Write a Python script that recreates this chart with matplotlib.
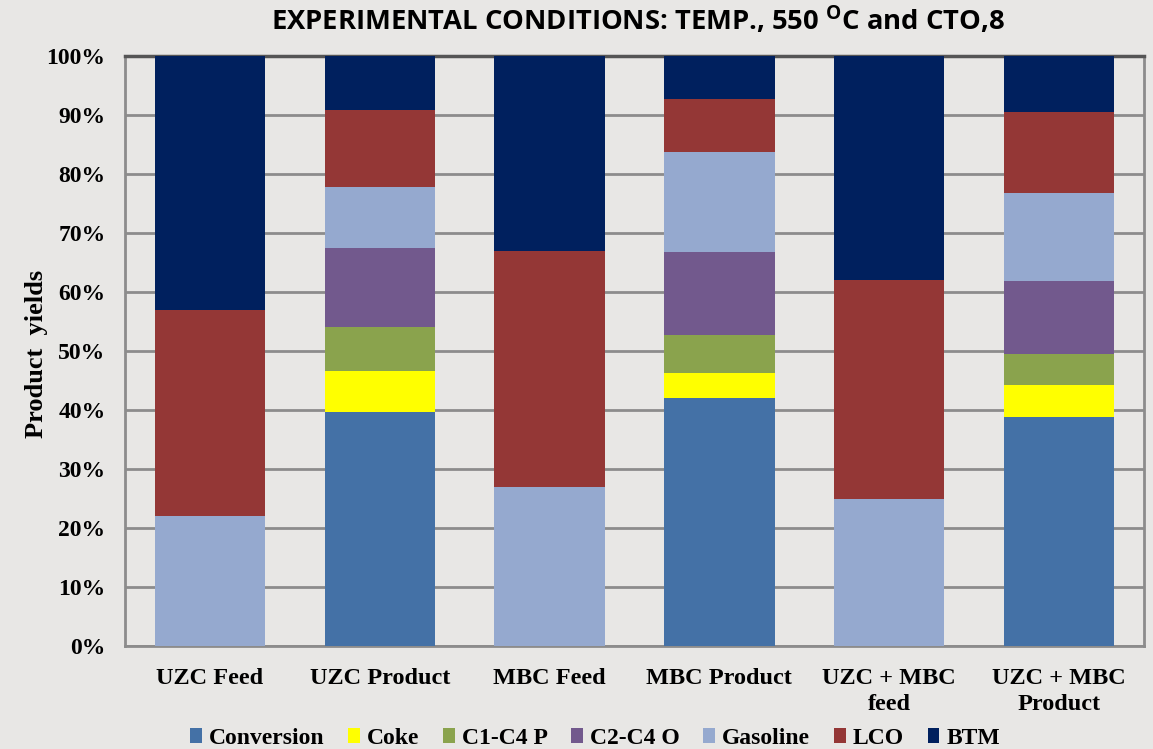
import numpy as np
import matplotlib
matplotlib.use("Agg")
import matplotlib.pyplot as plt
from matplotlib.patches import Patch
from matplotlib.ticker import PercentFormatter

# categories and stacked yields (%)
samples = ["UZC Feed", "UZC Product", "MBC Feed", "MBC Product",
           "UZC + MBC\nfeed", "UZC + MBC\nProduct"]
conversion = [0, 39.7, 0, 42.0, 0, 38.8]
coke = [0, 6.9, 0, 4.3, 0, 5.4]
c1c4_p = [0, 7.5, 0, 6.4, 0, 5.3]
c2c4_o = [0, 13.4, 0, 14.1, 0, 12.4]
gasoline = [22.0, 10.3, 27.0, 16.9, 25.0, 14.9]
lco = [35.0, 13.0, 40.0, 9.0, 37.0, 13.7]
btm = [43.0, 9.2, 33.0, 7.3, 38.0, 9.5]

series = {
    "Conversion": (conversion, "#4471a6"),
    "Coke": (coke, "#ffff00"),
    "C1-C4 P": (c1c4_p, "#8aa34d"),
    "C2-C4 O": (c2c4_o, "#72598d"),
    "Gasoline": (gasoline, "#95a9cf"),
    "LCO": (lco, "#943736"),
    "BTM": (btm, "#00205e"),
}

bg = "#e8e7e5"
serif = ["Liberation Serif", "DejaVu Serif"]

fig = plt.figure(figsize=(11.53, 7.49), dpi=100, facecolor=bg)
ax = fig.add_axes([0.1084, 0.1375, 0.8838, 0.7877])
ax.set_facecolor(bg)

x = np.arange(len(samples))
bottom = np.zeros(len(samples))
for name, (vals, col) in series.items():
    vals = np.array(vals)
    ax.bar(x, vals, 0.65, bottom=bottom, color=col, label=name, zorder=3)
    bottom += vals

ax.set_xlim(-0.5, len(samples) - 0.5)
ax.set_ylim(0, 100)
ax.set_yticks(np.arange(0, 101, 10))
ax.yaxis.set_major_formatter(PercentFormatter(decimals=0))
ax.grid(axis="y", color="#8c8c8c", linewidth=2, zorder=0)
ax.set_axisbelow(True)

for s in ["left", "bottom", "right"]:
    ax.spines[s].set_color("#8c8c8c")
    ax.spines[s].set_linewidth(2)
ax.spines["top"].set_color("#555555")
ax.spines["top"].set_linewidth(2.5)

ax.set_xticks(x)
ax.set_xticklabels(samples, fontfamily=serif, fontweight="bold", fontsize=17.5,
                   linespacing=1.3)
ax.tick_params(axis="x", length=0, pad=16)
ax.tick_params(axis="y", length=0, pad=14, labelsize=17)
for t in ax.get_yticklabels():
    t.set_fontfamily(serif)
    t.set_fontweight("bold")

fig.text(37 / 1153, 1 - 354 / 749, "Product  yields", rotation=90,
         ha="center", va="center", family=serif, fontweight="bold", fontsize=19)

fig.text(0.553, 0.973, r"EXPERIMENTAL CONDITIONS: TEMP., 550 $^{\mathregular{O}}$C and CTO,8",
         ha="center", va="center", fontsize=19.7, fontweight="bold",
         family=["Open Sans", "DejaVu Sans"])

handles = [Patch(facecolor=c, label=n) for n, (v, c) in series.items()]
fig.legend(handles=handles, loc="center", bbox_to_anchor=(0.516, 0.014),
           bbox_transform=fig.transFigure,
           ncol=7, frameon=False, handlelength=0.5, handleheight=0.6,
           handletextpad=0.3, columnspacing=1.0, borderpad=0,
           prop={"family": serif, "weight": "bold", "size": 17})

fig.savefig("out.png", dpi=100, facecolor=bg)
